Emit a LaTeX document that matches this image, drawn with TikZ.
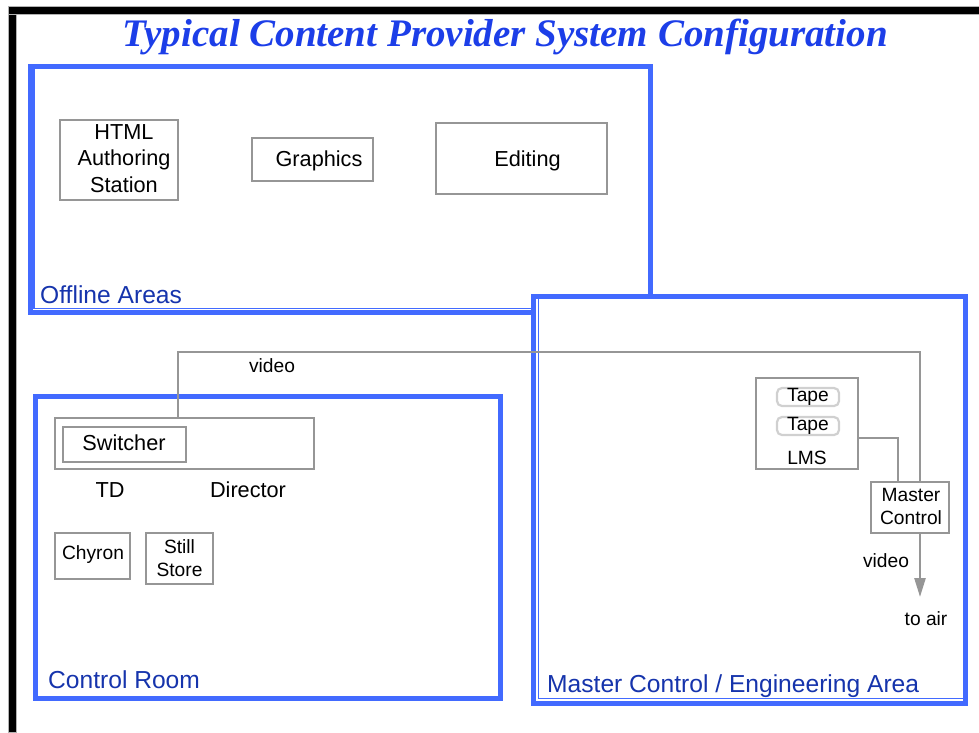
\documentclass[tikz,border=0pt]{standalone}
\usepackage{fontspec}
\setmainfont{Liberation Sans}
\newfontfamily\headserif{Liberation Serif}
\usetikzlibrary{arrows.meta}

\definecolor{areablue}{RGB}{66,106,255}
\definecolor{arealabel}{RGB}{22,52,172}
\definecolor{titleblue}{RGB}{28,62,232}
\definecolor{unitgray}{RGB}{150,150,150}
\definecolor{tapegray}{RGB}{208,208,208}

\newcommand\headtxt{\headserif\bfseries\itshape\fontsize{39}{44}\selectfont}
\newcommand\areatxt{\fontsize{24.6}{29}\selectfont}
\newcommand\bigtxt{\fontsize{21.7}{26.5}\selectfont}
\newcommand\lbltxt{\fontsize{19.2}{23}\selectfont}

\begin{document}
\begin{tikzpicture}[x=1pt,y=-1pt,
  area/.style={draw=areablue, line width=5pt},
  areaedge/.style={draw=areablue, line width=1.3pt},
  arealbl/.style={text=arealabel, font=\areatxt, inner sep=0pt, anchor=base west},
  unit/.style={draw=unitgray, line width=2.5pt, inner sep=0pt, align=center},
  tape/.style={draw=tapegray, line width=2.2pt, rounded corners=5pt, inner sep=0pt,
               minimum width=62, minimum height=18, font=\lbltxt},
  plain/.style={inner sep=0pt, align=center},
  wire/.style={draw=unitgray, line width=2.5pt},
  tip/.style={-{Triangle[length=19pt,width=11pt]}}
]
\useasboundingbox (0,0) rectangle (979,732);

% page frame
\fill[black, draw=gray!60, line width=0.6pt] (8,6) rectangle (16.5,732);
\fill[black, draw=gray!60, line width=0.6pt] (8,6) rectangle (979,14.5);

% title
\node[text=titleblue, font=\headtxt, inner sep=0pt, anchor=base] (title) at (505,46)
  {Typical Content Provider System Configuration};

% offline areas
\draw[area] (30.5,66) rectangle (650.5,312);
\draw[areaedge] (34,68) |- (648,308.5);
\node[arealbl] (offlbl) at (40,303.5) {Offline Areas};

\node[unit, minimum width=118, minimum height=80] (html) at (119,160) {};
\node[plain, font=\bigtxt] (htmltxt) at (124,158.5) {HTML\\Authoring\\Station};
\node[unit, minimum width=121, minimum height=43] (gfx) at (312.5,159.5) {};
\node[plain, font=\bigtxt] (gfxtxt) at (319,161) {Graphics};
\node[unit, minimum width=171, minimum height=71] (edit) at (521.5,158.5) {};
\node[plain, font=\bigtxt] (edittxt) at (527.5,161) {Editing};

% master control / engineering area
\draw[area, fill=white] (533.5,296.5) rectangle (965.5,703.5);
\draw[areaedge] (538.5,299) |- (963,698.5);
\node[arealbl] (mclbl) at (547,692) {Master Control / Engineering Area};

% control room
\draw[area] (35.5,396.5) rectangle (500.5,698.5);
\node[arealbl] (crlbl) at (48,688) {Control Room};

\node[unit, minimum width=259, minimum height=51] (desk) at (184.5,443.5) {};
\node[unit, minimum width=123, minimum height=35, font=\bigtxt] (sw) at (124.5,444.5) {};
\node[plain, font=\bigtxt] (swtxt) at (124,443) {Switcher};
\node[plain, font=\bigtxt] (td) at (110,490) {TD};
\node[plain, font=\bigtxt] (dir) at (248,490) {Director};
\node[unit, minimum width=75, minimum height=46] (chy) at (92.5,556) {};
\node[plain, font=\lbltxt] (chytxt) at (93,555) {Chyron};
\node[unit, minimum width=67, minimum height=51, font=\lbltxt] (still) at (179.5,558.5) {Still\\Store};

% library and master control
\node[unit, minimum width=102, minimum height=91] (lms) at (807,423.5) {};
\node[tape] (tape1) at (808,397) {Tape};
\node[tape] (tape2) at (808,426) {Tape};
\node[plain, font=\lbltxt] (lmslbl) at (807,458) {LMS};
\node[unit, minimum width=78, minimum height=51] (mc) at (910,507.5) {};
\node[plain, font=\lbltxt] (mctxt) at (911,506) {Master\\Control};

% signal paths
\coordinate (vtop) at (920,352);
\draw[wire] (desk.north -| 178,0) |- (vtop) -- (vtop |- mc.north);
\node[plain, font=\lbltxt] (vid1) at (272,366) {video};
\draw[wire] (lms.east |- 0,438) -| (898,0 |- mc.north);
\coordinate (air) at (920,597);
\draw[wire, tip, draw=unitgray, fill=unitgray] (vtop |- mc.south) -- (air);
\node[plain, font=\lbltxt] (vid2) at (886,561) {video};
\node[plain, font=\lbltxt] (toair) at (926,619) {to air};
\end{tikzpicture}
\end{document}
